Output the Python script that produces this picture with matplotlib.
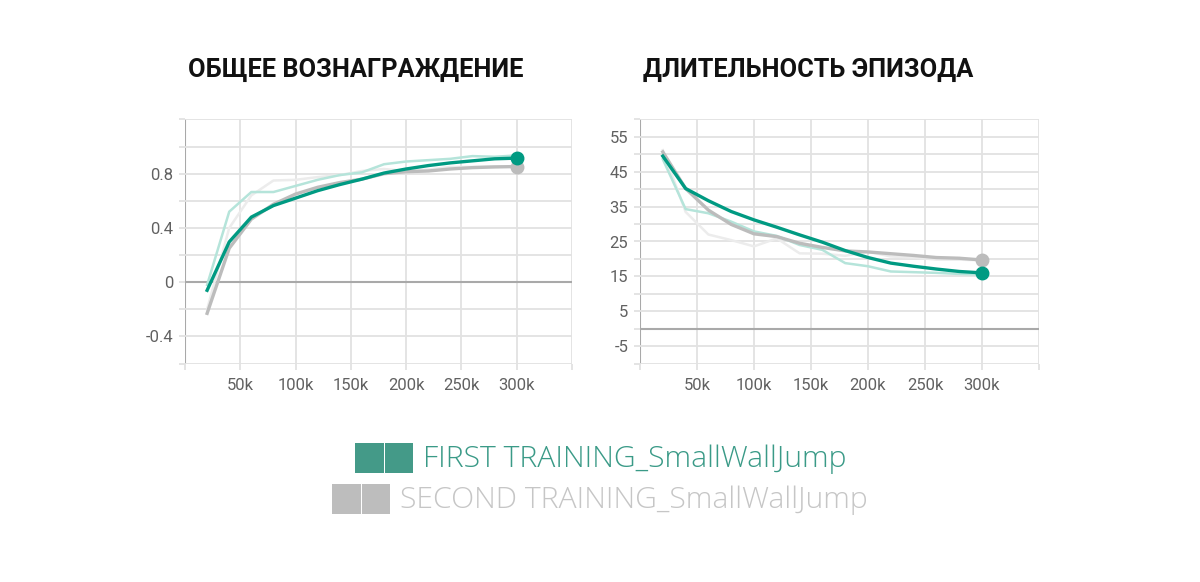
import matplotlib
matplotlib.use("Agg")
import matplotlib.pyplot as plt
from matplotlib.patches import Rectangle

steps = [20000, 40000, 60000, 80000, 100000, 120000, 140000, 160000,
         180000, 200000, 220000, 240000, 260000, 280000, 300000]

# Cumulative reward
reward_first_smooth = [-0.06, 0.297, 0.48, 0.565, 0.62, 0.675, 0.72, 0.76,
                       0.805, 0.835, 0.86, 0.88, 0.895, 0.91, 0.915]
reward_first_raw = [-0.02, 0.52, 0.665, 0.665, 0.71, 0.755, 0.79, 0.81,
                    0.87, 0.89, 0.90, 0.91, 0.93, 0.925, 0.935]
reward_second_smooth = [-0.23, 0.25, 0.465, 0.575, 0.65, 0.70, 0.735, 0.76,
                        0.80, 0.815, 0.82, 0.835, 0.845, 0.85, 0.853]
reward_second_raw = [-0.2, 0.40, 0.64, 0.75, 0.755, 0.775, 0.79, 0.82,
                     0.835, 0.82, 0.83, 0.85, 0.85, 0.855, 0.855]

# Episode length
length_first_smooth = [49.5, 40.2, 36.7, 33.6, 31.2, 29.1, 26.9, 24.8,
                       22.4, 20.4, 18.8, 17.9, 17.1, 16.4, 16.0]
length_first_raw = [48.6, 34.3, 33.1, 30.7, 27.9, 26.6, 24.0, 22.6,
                    18.8, 17.9, 16.4, 16.2, 16.0, 15.7, 15.5]
length_second_smooth = [50.7, 40.2, 34.0, 29.9, 27.2, 26.4, 24.5, 23.3,
                        22.3, 22.0, 21.5, 21.0, 20.4, 20.2, 19.7]
length_second_raw = [51.2, 33.5, 27.0, 25.4, 23.6, 25.9, 21.6, 21.5,
                     20.9, 22.1, 20.7, 20.4, 19.8, 19.8, 19.6]

titles = ["ОБЩЕЕ ВОЗНАГРАЖДЕНИЕ", "ДЛИТЕЛЬНОСТЬ ЭПИЗОДА"]
legend_labels = ["FIRST TRAINING_SmallWallJump", "SECOND TRAINING_SmallWallJump"]

x_labeled = [50000, 100000, 150000, 200000, 250000, 300000]
x_grid = [0] + x_labeled + [350000]

reward_grid = [-0.6, -0.4, -0.2, 0, 0.2, 0.4, 0.6, 0.8, 1.0, 1.2]
reward_labeled = {-0.4: "-0.4", 0: "0", 0.4: "0.4", 0.8: "0.8"}
length_grid = list(range(-10, 61, 5))
length_labeled = {-5: "-5", 5: "5", 15: "15", 25: "25", 35: "35", 45: "45", 55: "55"}

TEAL = "#009a82"
TEAL_FAINT = "#b5e4da"
GRAY = "#bcbcbc"
GRAY_FAINT = "#ececec"
GRID = "#e2e2e2"
AXIS = "#a9a9a9"
LABEL = "#616161"

fig = plt.figure(figsize=(12, 5.82), dpi=100)
fig.patch.set_facecolor("white")

H = 582.0
bottom = 1 - 363.5 / H
height = 244 / H
ax1 = fig.add_axes([185 / 1200, bottom, 387 / 1200, height])
ax2 = fig.add_axes([640 / 1200, bottom, 399 / 1200, height])


def style(ax, ygrid, ylabels, ylim):
    ax.set_xlim(0, 350000)
    ax.set_ylim(*ylim)
    for s in ax.spines.values():
        s.set_visible(False)
    ax.set_xticks(x_grid)
    ax.set_xticklabels(["" if v not in x_labeled else f"{v // 1000}k" for v in x_grid])
    ax.set_yticks(ygrid)
    ax.set_yticklabels([ylabels.get(v, "") for v in ygrid])
    ax.tick_params(axis="both", length=4, width=1.3, color=GRID, labelcolor=LABEL,
                   labelsize=12)
    ax.tick_params(axis="x", pad=6.5)
    ax.tick_params(axis="y", pad=4.5)
    for lab in ax.get_xticklabels() + ax.get_yticklabels():
        lab.set_fontfamily(["Roboto", "DejaVu Sans"])
        lab.set_fontweight("normal")
    for v in x_grid:
        ax.axvline(v, color=AXIS if v == 0 else GRID, lw=1.5 if v == 0 else 1.3, zorder=0)
    for v in ygrid:
        ax.axhline(v, color=AXIS if v == 0 else GRID, lw=1.5 if v == 0 else 1.3, zorder=0)


style(ax1, reward_grid, reward_labeled, (-0.6, 1.2))
style(ax2, length_grid, length_labeled, (-10, 60))

for ax, fr, sr, fs, ss in [
    (ax1, reward_first_raw, reward_second_raw, reward_first_smooth, reward_second_smooth),
    (ax2, length_first_raw, length_second_raw, length_first_smooth, length_second_smooth),
]:
    ax.plot(steps, sr, color=GRAY_FAINT, lw=1.8, zorder=2, solid_joinstyle="round")
    ax.plot(steps, fr, color=TEAL_FAINT, lw=1.8, zorder=3, solid_joinstyle="round")
    ax.plot(steps, ss, color=GRAY, lw=2.4, zorder=4, solid_joinstyle="round")
    ax.plot(steps, fs, color=TEAL, lw=2.4, zorder=5, solid_joinstyle="round")
    ax.plot(steps[-1:], ss[-1:], "o", color=GRAY, ms=9, zorder=6, clip_on=False)
    ax.plot(steps[-1:], fs[-1:], "o", color=TEAL, ms=9, zorder=7, clip_on=False)

fig.text(188 / 1200, 1 - 70 / H, titles[0], fontsize=18.3, fontweight="bold",
         fontfamily=["Roboto", "DejaVu Sans"], color="#111111", va="center", ha="left")
fig.text(643 / 1200, 1 - 70 / H, titles[1], fontsize=18.3, fontweight="bold",
         fontfamily=["Roboto", "DejaVu Sans"], color="#111111", va="center", ha="left")

# Legend
leg = [
    (355, 443, "#449a88", "#3a9a87", 423, 459),
    (332, 484, "#bdbdbd", "#c6c6c6", 400, 500),
]
for (x0, y0, box, tc, tx, ty), lab in zip(leg, legend_labels):
    for k in range(2):
        fig.patches.append(Rectangle(((x0 + k * 29.5) / 1200, 1 - (y0 + 30) / H),
                                     28.5 / 1200, 30 / H, transform=fig.transFigure,
                                     facecolor=box, edgecolor="none"))
    fig.text(tx / 1200, 1 - ty / H, lab, fontsize=21.7, fontweight="light",
             fontfamily=["Open Sans", "DejaVu Sans"], color=tc, va="center", ha="left")

fig.savefig("out.png", dpi=100, facecolor="white")
